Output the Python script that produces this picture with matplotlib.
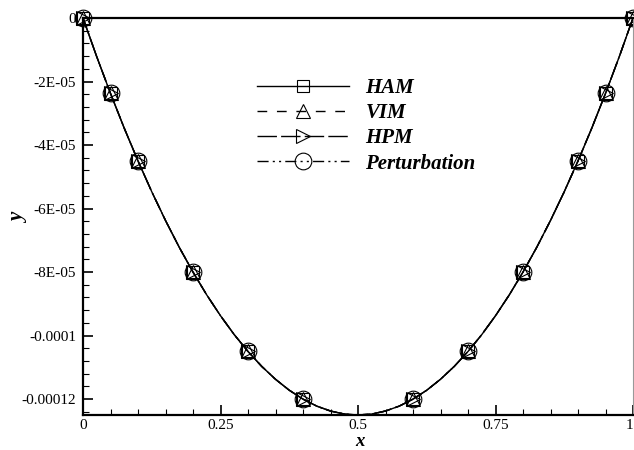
import matplotlib
matplotlib.use("Agg")
import matplotlib.pyplot as plt
from matplotlib.ticker import FixedLocator, MultipleLocator, FixedFormatter

plt.rcParams['font.family'] = ['Liberation Serif', 'DejaVu Serif']

# Data
x_vals = [0.0, 0.025, 0.05, 0.075, 0.1, 0.125, 0.15, 0.175, 0.2, 0.225, 0.25,
          0.275, 0.3, 0.325, 0.35, 0.375, 0.4, 0.425, 0.45, 0.475, 0.5,
          0.525, 0.55, 0.575, 0.6, 0.625, 0.65, 0.675, 0.7, 0.725, 0.75,
          0.775, 0.8, 0.825, 0.85, 0.875, 0.9, 0.925, 0.95, 0.975, 1.0]
y_ham = [0.0, -1.22e-5, -2.375e-5, -3.47e-5, -4.5e-5, -5.47e-5, -6.375e-5, -7.22e-5,
         -8.0e-5, -8.72e-5, -9.375e-5, -9.97e-5, -1.05e-4, -1.097e-4, -1.1375e-4,
         -1.172e-4, -1.2e-4, -1.222e-4, -1.2375e-4, -1.247e-4, -1.25e-4,
         -1.247e-4, -1.2375e-4, -1.222e-4, -1.2e-4, -1.172e-4, -1.1375e-4,
         -1.097e-4, -1.05e-4, -9.97e-5, -9.375e-5, -8.72e-5, -8.0e-5, -7.22e-5,
         -6.375e-5, -5.47e-5, -4.5e-5, -3.47e-5, -2.375e-5, -1.22e-5, 0.0]
y_vim = list(y_ham)
y_hpm = list(y_ham)
y_pert = list(y_ham)
series_names = ["HAM", "VIM", "HPM", "Perturbation"]
marker_idx = [0, 2, 4, 8, 12, 16, 24, 28, 32, 36, 38, 40]

x_ticks = [0, 0.25, 0.5, 0.75, 1]
x_ticklabels = ["0", "0.25", "0.5", "0.75", "1"]
y_ticks = [0, -2e-5, -4e-5, -6e-5, -8e-5, -1e-4, -1.2e-4]
y_ticklabels = ["0", "-2E-05", "-4E-05", "-6E-05", "-8E-05", "-0.0001", "-0.00012"]

fig = plt.figure(figsize=(6.34, 4.5), dpi=100)
ax = fig.add_axes([83/634, 1-415/450, 550/634, (415-18)/450])

styles = [
    dict(linestyle='-', marker='s', ms=9),
    dict(linestyle=(0, (7, 7)), marker='^', ms=10),
    dict(linestyle=(0, (14, 3)), marker='>', ms=10),
    dict(linestyle=(0, (8, 3, 1.5, 3, 1.5, 3)), marker='o', ms=12),
]
for ys, name, st in zip([y_ham, y_vim, y_hpm, y_pert], series_names, styles):
    ax.plot(x_vals, ys, color='black', lw=1.0, linestyle=st['linestyle'],
            marker=st['marker'], markersize=st['ms'], markerfacecolor='none',
            markeredgecolor='black', markeredgewidth=0.8,
            markevery=marker_idx, clip_on=False, label=name)

ax.set_xlim(0, 1)
ax.set_ylim(-1.25e-4, 0)
ax.xaxis.set_major_locator(FixedLocator(x_ticks))
ax.xaxis.set_major_formatter(FixedFormatter(x_ticklabels))
ax.xaxis.set_minor_locator(MultipleLocator(0.05))
ax.yaxis.set_major_locator(FixedLocator(y_ticks))
ax.yaxis.set_major_formatter(FixedFormatter(y_ticklabels))
ax.yaxis.set_minor_locator(MultipleLocator(4e-6))

ax.tick_params(which='major', direction='in', length=7, width=1.2, labelsize=11,
               top=False, right=False)
ax.tick_params(axis='x', which='major', pad=3)
ax.tick_params(axis='y', which='major', pad=5)
ax.tick_params(which='minor', direction='in', length=4, width=0.8,
               top=False, right=False)
for s in ['left', 'bottom', 'top']:
    ax.spines[s].set_linewidth(1.6)
ax.spines['right'].set_linewidth(0.8)
ax.spines['right'].set_color('#999999')

fig.canvas.draw()
ax.get_xticklabels()[-1].set_horizontalalignment('right')

ax.set_xlabel('x', fontsize=13.5, fontweight='bold', fontstyle='italic')
ax.set_ylabel('y', fontsize=15, fontweight='bold', fontstyle='italic')
ax.xaxis.set_label_coords((360-83)/550, (415-449.5)/397)
ax.xaxis.label.set_verticalalignment('bottom')
ax.yaxis.set_label_coords((29-83)/550, (415-218)/397)

leg = ax.legend(loc='upper left', bbox_to_anchor=(257/634, 1-78/450),
                bbox_transform=fig.transFigure, frameon=False,
                prop=dict(family='Liberation Serif', weight='bold', style='italic', size=15),
                handlelength=4.4, handletextpad=0.8, labelspacing=0.25,
                borderpad=0, borderaxespad=0)

fig.savefig('out.png', dpi=100)
